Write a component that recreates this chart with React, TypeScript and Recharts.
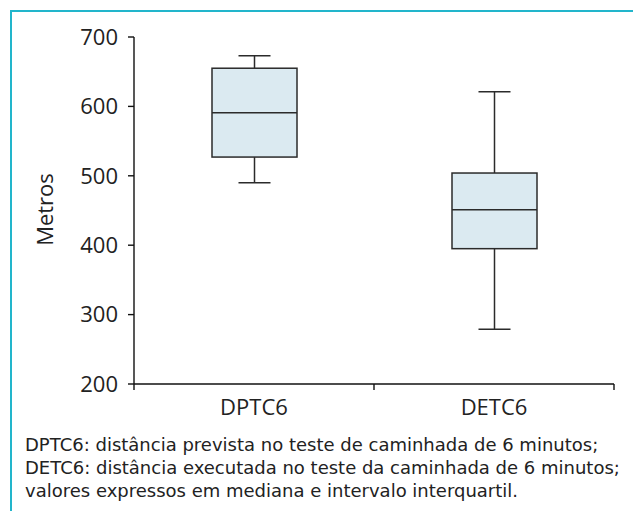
import { ComposedChart, Bar, XAxis, YAxis, Label } from "recharts"

const categories = ["DPTC6", "DETC6"]
const mins = [490, 279]
const q1s = [527, 395]
const medians = [591, 451]
const q3s = [655, 504]
const maxs = [673, 621]
const yTicks = [200, 300, 400, 500, 600, 700]
const xTicks = [0, 0.5, 1, 1.5, 2]
const caption = [
    "DPTC6: distância prevista no teste de caminhada de 6 minutos;",
    "DETC6: distância executada no teste da caminhada de 6 minutos;",
    "valores expressos em mediana e intervalo interquartil.",
]

const data = categories.map((name, i) => ({
    name,
    pos: i + 0.5,
    min: mins[i],
    q1: q1s[i],
    median: medians[i],
    q3: q3s[i],
    max: maxs[i],
}))

const FONT = "'Open Sans', 'Noto Sans', sans-serif"
const INK = "#2b2b2b"

function BoxShape(props: any) {
    const { x, y, width, height, payload } = props
    const top = Math.min(y, y + height)
    const bottom = Math.max(y, y + height)
    const k = (bottom - top) / (payload.max - payload.min)
    const yOf = (v: number) => bottom - (v - payload.min) * k
    const cx = x + width / 2
    const cap = 16
    return (
        <g stroke={INK} strokeWidth={1.5}>
            <line x1={cx} x2={cx} y1={yOf(payload.max)} y2={yOf(payload.q3)} />
            <line x1={cx} x2={cx} y1={yOf(payload.q1)} y2={yOf(payload.min)} />
            <line x1={cx - cap} x2={cx + cap} y1={yOf(payload.max)} y2={yOf(payload.max)} />
            <line x1={cx - cap} x2={cx + cap} y1={yOf(payload.min)} y2={yOf(payload.min)} />
            <rect x={x} y={yOf(payload.q3)} width={width} height={yOf(payload.q1) - yOf(payload.q3)} fill="#dbeaf1" />
            <line x1={x} x2={x + width} y1={yOf(payload.median)} y2={yOf(payload.median)} />
        </g>
    )
}

function XTick(props: any) {
    const { x, y, payload } = props
    const v = payload.value
    if (Number.isInteger(v)) {
        return <line x1={x} x2={x} y1={y} y2={y + 6} stroke="#111" strokeWidth={1.4} />
    }
    const label = categories[Math.floor(v)]
    return (
        <text x={x} y={y + 31} textAnchor="middle" fontFamily={FONT} fontSize={22} fill="#222">
            {label}
        </text>
    )
}

export default function App() {
    return (
        <div style={{ position: "absolute", left: 0, top: 0, width: 633, height: 511, background: "#fff", overflow: "hidden" }}>
            <div
                style={{
                    position: "absolute",
                    left: 10,
                    top: 10,
                    width: 640,
                    height: 520,
                    borderLeft: "2px solid #22b5cb",
                    borderTop: "2px solid #22b5cb",
                }}
            />
            <div style={{ position: "absolute", left: 0, top: 0 }}>
                <ComposedChart width={633} height={420} data={data} margin={{ top: 37, right: 19, bottom: 6, left: 0 }}>
                    <XAxis
                        dataKey="pos"
                        type="number"
                        domain={[0, 2]}
                        ticks={xTicks}
                        interval={0}
                        tickLine={false}
                        tickSize={0}
                        tickMargin={0}
                        tick={<XTick />}
                        axisLine={{ stroke: "#111", strokeWidth: 1.4 }}
                        height={30}
                    />
                    <YAxis
                        type="number"
                        domain={[200, 700]}
                        ticks={yTicks}
                        interval={0}
                        width={134}
                        tickSize={6}
                        tickMargin={10}
                        axisLine={{ stroke: "#111", strokeWidth: 1.4 }}
                        tickLine={{ stroke: "#111", strokeWidth: 1.4 }}
                        tick={{ fontFamily: FONT, fontSize: 22, fill: "#222" }}
                    >
                        <Label value="Metros" angle={-90} position="center" dx={-22} dy={-1} style={{ fontFamily: FONT, fontSize: 22, fill: "#222" }} />
                    </YAxis>
                    <Bar
                        dataKey={(d: any) => [d.min, d.max]}
                        barSize={85}
                        shape={<BoxShape />}
                        isAnimationActive={false}
                    />
                </ComposedChart>
            </div>
            <div
                style={{
                    position: "absolute",
                    left: 25,
                    top: 433,
                    fontFamily: "'DejaVu Sans', sans-serif",
                    fontSize: 18,
                    lineHeight: "23px",
                    color: "#222",
                    whiteSpace: "nowrap",
                }}
            >
                {caption.map((line) => (
                    <div key={line}>{line}</div>
                ))}
            </div>
        </div>
    )
}
